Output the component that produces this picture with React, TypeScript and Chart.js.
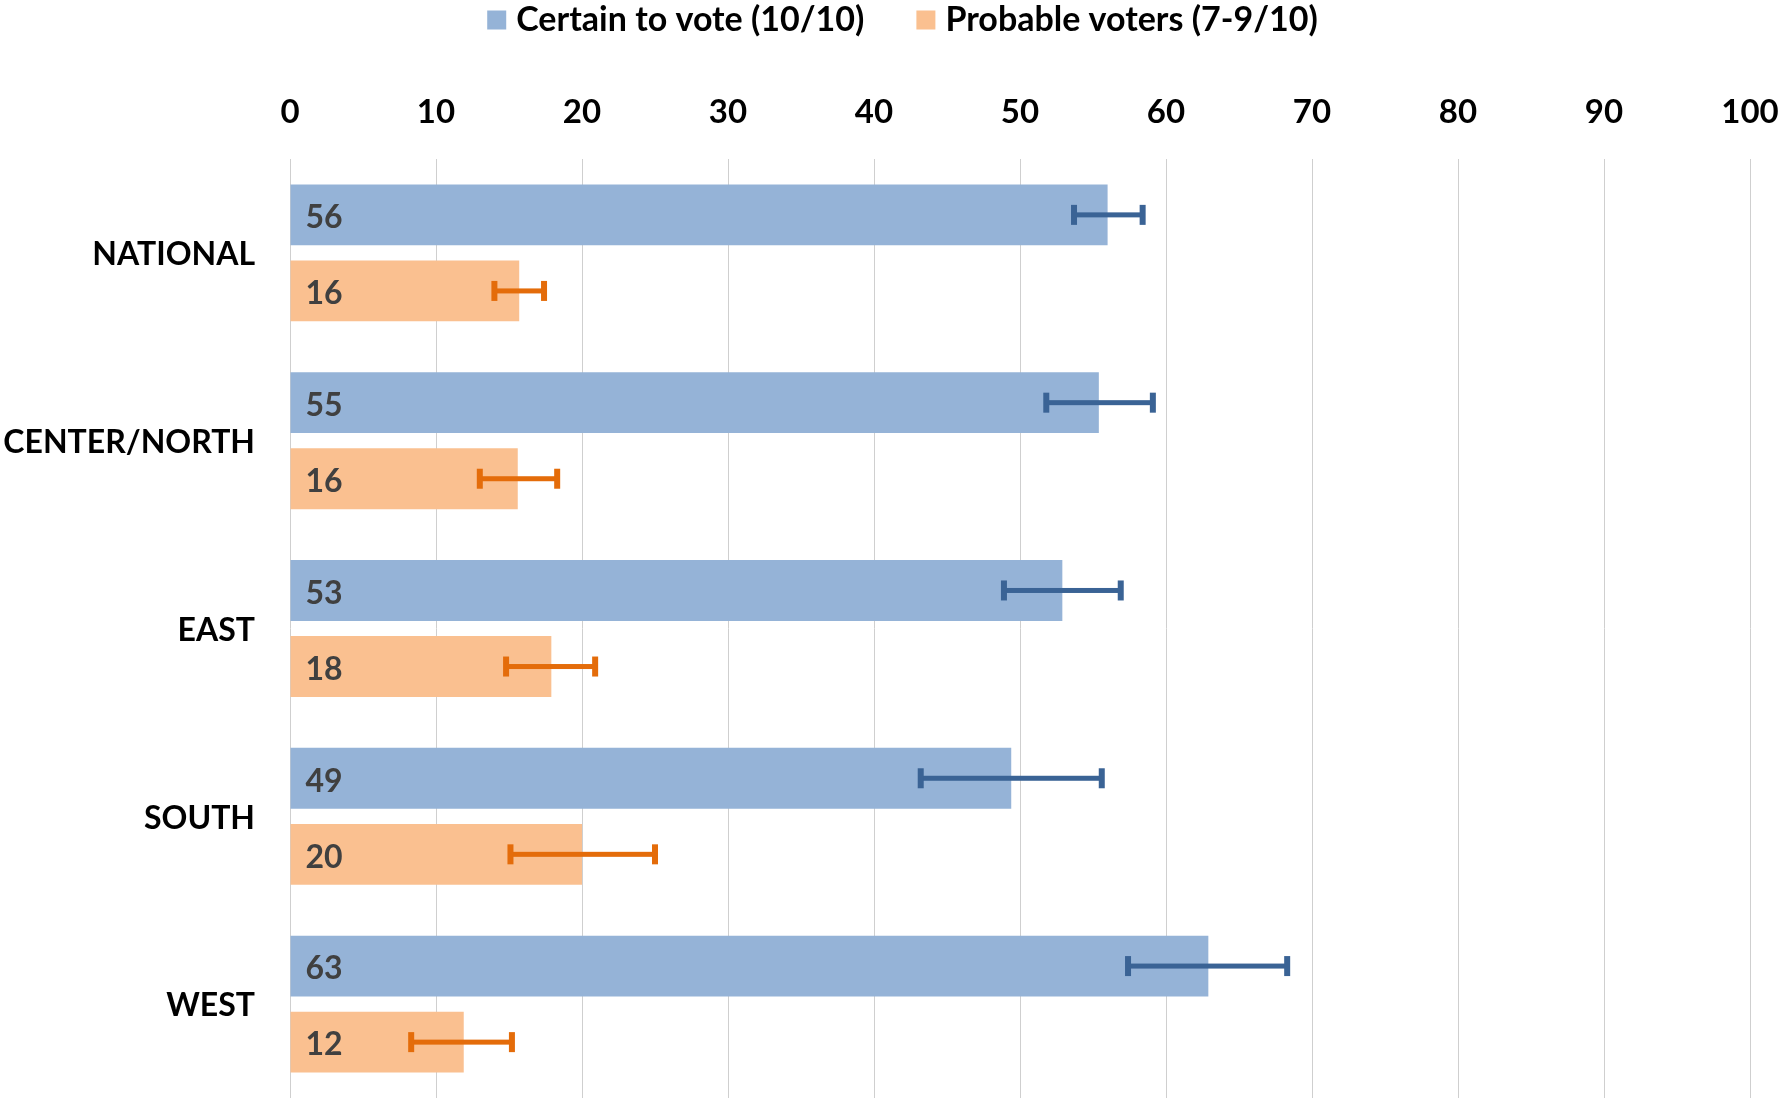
import React, { useEffect, useRef } from "react";
import { Chart, registerables } from "chart.js";
Chart.register(...registerables);

const categories = ["NATIONAL", "CENTER/NORTH", "EAST", "SOUTH", "WEST"];
const seriesNames = ["Certain to vote (10/10)", "Probable voters (7-9/10)"];
const certainValues = [56.0, 55.4, 52.9, 49.4, 62.9];
const probableValues = [15.7, 15.6, 17.9, 20.0, 11.9];
const certainErrLow = [53.7, 51.8, 48.9, 43.2, 57.4];
const certainErrHigh = [58.4, 59.1, 56.9, 55.6, 68.3];
const probableErrLow = [14.0, 13.0, 14.8, 15.1, 8.3];
const probableErrHigh = [17.4, 18.3, 20.9, 25.0, 15.2];
const xMin = 0;
const xMax = 100;
const xStep = 10;

const BAR_COLORS = ["#95B3D7", "#FAC090"];
const ERR_COLORS = ["#3A6395", "#E46C0A"];
const FONT = "Lato";
const W = 1785;
const H = 1098;

export default function App() {
  const ref = useRef<HTMLCanvasElement | null>(null);

  useEffect(() => {
    let chart: Chart | null = null;
    let cancelled = false;
    const errLows = [certainErrLow, probableErrLow];
    const errHighs = [certainErrHigh, probableErrHigh];

    const errorBarPlugin = {
      id: "errorBars",
      afterDatasetsDraw(c: any) {
        const ctx = c.ctx;
        const xs = c.scales.x;
        c.data.datasets.forEach((ds: any, di: number) => {
          const meta = c.getDatasetMeta(di);
          meta.data.forEach((bar: any, i: number) => {
            const x1 = xs.getPixelForValue(errLows[di][i]);
            const x2 = xs.getPixelForValue(errHighs[di][i]);
            const y = bar.y;
            ctx.save();
            ctx.fillStyle = ERR_COLORS[di];
            ctx.fillRect(x1, y - 2.5, x2 - x1, 5);
            ctx.fillRect(x1 - 3, y - 10, 6, 20);
            ctx.fillRect(x2 - 3, y - 10, 6, 20);
            ctx.restore();
          });
        });
        c.data.datasets.forEach((ds: any, di: number) => {
          const meta = c.getDatasetMeta(di);
          meta.data.forEach((bar: any, i: number) => {
            ctx.save();
            ctx.font = `bold 32px ${FONT}`;
            ctx.fillStyle = "#404040";
            ctx.textAlign = "left";
            ctx.textBaseline = "middle";
            ctx.fillText(String(Math.round(ds.data[i])), bar.base + 15, bar.y + 3);
            ctx.restore();
          });
        });
      },
      afterDraw(c: any) {
        const ctx = c.ctx;
        ctx.save();
        ctx.font = `bold 34px ${FONT}`;
        const box = 19;
        const gapBoxText = 10;
        const gapItems = 52;
        const widths = seriesNames.map((s) => ctx.measureText(s).width);
        const total =
          widths.reduce((a, w) => a + box + gapBoxText + w, 0) + gapItems * (seriesNames.length - 1);
        let x = (W - total) / 2 + 10;
        const yc = 20;
        seriesNames.forEach((s, i) => {
          ctx.fillStyle = BAR_COLORS[i];
          ctx.fillRect(x, yc - box / 2, box, box);
          x += box + gapBoxText;
          ctx.fillStyle = "#000";
          ctx.textAlign = "left";
          ctx.textBaseline = "middle";
          ctx.fillText(s, x, yc);
          x += widths[i] + gapItems;
        });
        ctx.restore();
      },
    };

    const zeroPad = (s: any) => {
      s.paddingTop = 0;
      s.paddingBottom = 0;
      s.paddingLeft = 0;
      s.paddingRight = 0;
    };

    const make = () => {
      if (cancelled || !ref.current) return;
      chart = new Chart(ref.current, {
        type: "bar",
        data: {
          labels: categories,
          datasets: [
            {
              label: seriesNames[0],
              data: certainValues,
              backgroundColor: BAR_COLORS[0],
              barPercentage: 0.8,
              categoryPercentage: 0.81,
            },
            {
              label: seriesNames[1],
              data: probableValues,
              backgroundColor: BAR_COLORS[1],
              barPercentage: 0.8,
              categoryPercentage: 0.81,
            },
          ],
        },
        options: {
          indexAxis: "y",
          animation: false,
          responsive: false,
          devicePixelRatio: 1,
          layout: { padding: { top: 60, right: 35, left: 0, bottom: 0 } },
          plugins: { legend: { display: false }, tooltip: { enabled: false } },
          scales: {
            x: {
              position: "top",
              min: xMin,
              max: xMax,
              ticks: {
                stepSize: xStep,
                color: "#000",
                font: { family: FONT, size: 33, weight: "bold" },
                padding: 27,
              },
              grid: { color: "#CFCFCF", lineWidth: 1, drawTicks: false },
              border: { display: false },
              afterFit: (s: any) => {
                s.height = 99;
                zeroPad(s);
              },
            },
            y: {
              grid: { display: false, drawTicks: false },
              border: { display: false },
              ticks: {
                color: "#000",
                font: { family: FONT, size: 32, weight: "bold" },
                padding: 35,
                labelOffset: 2,
              },
              afterFit: (s: any) => {
                s.width = 290;
                zeroPad(s);
              },
            },
          },
        },
        plugins: [errorBarPlugin],
      } as any);
    };

    const fontsReady = (document as any).fonts
      ? Promise.all([(document as any).fonts.load(`bold 32px ${FONT}`)]).catch(() => null)
      : Promise.resolve(null);
    fontsReady.then(make);

    return () => {
      cancelled = true;
      if (chart) chart.destroy();
    };
  }, []);

  return (
    <div style={{ position: "absolute", left: 0, top: 0, width: W, height: H, background: "#fff" }}>
      <canvas ref={ref} width={W} height={H} style={{ display: "block", width: W, height: H }} />
    </div>
  );
}
